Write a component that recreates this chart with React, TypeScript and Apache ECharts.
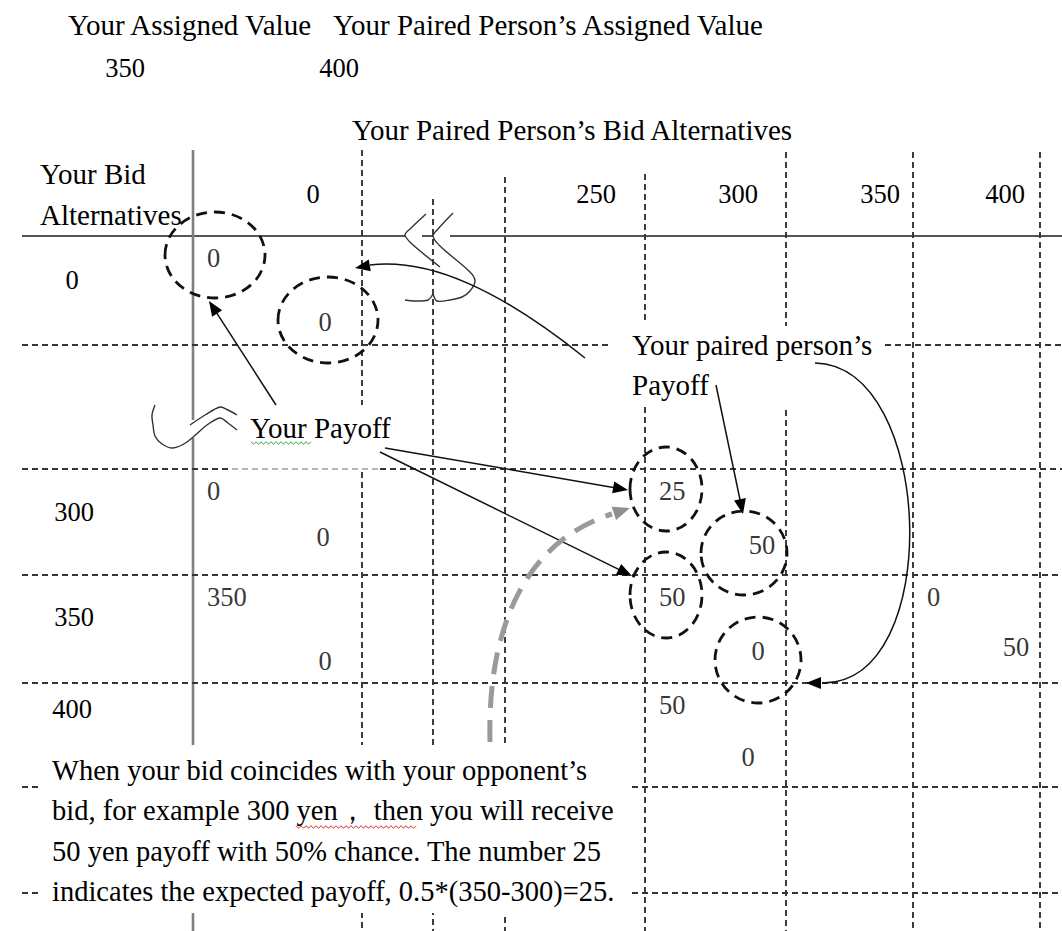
import React, { useEffect, useRef } from "react";
import * as echarts from "echarts";

// ---------- data ----------
const assignedLabels = ["Your Assigned Value", "Your Paired Person’s Assigned Value"];
const assignedValues = ["350", "400"];
const colTitle = "Your Paired Person’s Bid Alternatives";
const rowTitle = ["Your Bid", "Alternatives"];
const colLabels = ["0", "250", "300", "350", "400"];
const rowLabels = ["0", "300", "350", "400"];
const cellRow = ["0", "300", "350", "300", "350", "350", "400"];
const cellCol = ["0", "0", "0", "300", "300", "400", "300"];
const yourPayoff = [0, 0, 350, 25, 50, 0, 50];
const pairedPayoff = [0, 0, 0, 50, 0, 50, 0];
const noteLines = [
  "When your bid coincides with your opponent’s",
  "bid, for example 300 yen， then you will receive",
  "50 yen payoff with 50% chance. The number 25",
  "indicates the expected payoff, 0.5*(350-300)=25.",
];

// ---------- layout ----------
const W = 1062;
const H = 931;
const FONT = '"Liberation Serif", "Times New Roman", serif';
const WORD = 29;
const NUM = 26.5;
const colEdge: Record<string, [number, number]> = {
  "0": [193, 362],
  "250": [505, 645],
  "300": [645, 786],
  "350": [786, 913],
  "400": [913, 1040],
};
const rowEdge: Record<string, [number, number]> = {
  "0": [236, 345],
  "300": [469, 575],
  "350": [575, 683],
  "400": [683, 787],
};
const colHeadX = [313, 596, 738, 880, 1005];
const colHeadY = 194;
const rowLabelX = [72, 74, 74, 72];
const rowLabelY = [280, 512, 617, 709];
const yourOffset = [14, 22];
const pairedOffset = [
  [132, 86],
  [130, 68],
  [132, 86],
  [117, 76],
  [113, 76],
  [103, 72],
  [103, 74],
];

const INK = "#000";
const GRID = "#353535";

function txt(x: number, y: number, s: string, size: number, align = "left", z = 6) {
  return {
    type: "text",
    x,
    y,
    z,
    silent: true,
    style: {
      text: s,
      fontSize: size,
      fontFamily: FONT,
      fill: INK,
      align,
      verticalAlign: "middle",
      textAlign: align,
      textVerticalAlign: "middle",
    },
  };
}
function dashLine(x1: number, y1: number, x2: number, y2: number, color = GRID) {
  return {
    type: "line",
    z: 1,
    silent: true,
    shape: { x1, y1, x2, y2 },
    style: { stroke: color, lineWidth: 1.9, lineDash: [6, 4] },
  };
}
function solidLine(x1: number, y1: number, x2: number, y2: number, color: string, w: number) {
  return {
    type: "line",
    z: 1,
    silent: true,
    shape: { x1, y1, x2, y2 },
    style: { stroke: color, lineWidth: w },
  };
}
function head(tx: number, ty: number, fx: number, fy: number, color = INK, len = 15, w = 6) {
  const dx = tx - fx;
  const dy = ty - fy;
  const d = Math.hypot(dx, dy);
  const ux = dx / d;
  const uy = dy / d;
  const bx = tx - ux * len;
  const by = ty - uy * len;
  const px = -uy;
  const py = ux;
  return {
    type: "polygon",
    z: 4,
    silent: true,
    shape: { points: [[tx, ty], [bx + px * w, by + py * w], [bx - px * w, by - py * w]] },
    style: { fill: color },
  };
}
function arrow(x1: number, y1: number, x2: number, y2: number) {
  const d = Math.hypot(x2 - x1, y2 - y1);
  const bx = x2 - ((x2 - x1) / d) * 12;
  const by = y2 - ((y2 - y1) / d) * 12;
  return [
    { type: "line", z: 4, silent: true, shape: { x1, y1, x2: bx, y2: by }, style: { stroke: "#111", lineWidth: 1.5 } },
    head(x2, y2, x1, y1),
  ];
}
function curve(p: number[], color = "#111", w = 1.5, dash?: number[]) {
  return {
    type: "bezierCurve",
    z: 4,
    silent: true,
    shape: { x1: p[0], y1: p[1], cpx1: p[2], cpy1: p[3], cpx2: p[4], cpy2: p[5], x2: p[6], y2: p[7] },
    style: { stroke: color, lineWidth: w, fill: "none", lineDash: dash },
  };
}
function ring(cx: number, cy: number, rx: number, ry: number) {
  return {
    type: "ellipse",
    z: 3,
    silent: true,
    shape: { cx, cy, rx, ry },
    style: { stroke: "#111", lineWidth: 2.8, fill: "none", lineDash: [11, 7] },
  };
}
function squiggle(pts: number[][]) {
  return {
    type: "polyline",
    z: 3,
    silent: true,
    shape: { points: pts, smooth: 0.3 },
    style: { stroke: "#333", lineWidth: 1.4, fill: "none" },
  };
}
function wavy(x1: number, x2: number, y: number, color: string) {
  const pts: number[][] = [];
  let up = true;
  for (let x = x1; x <= x2; x += 2.5) {
    pts.push([x, y + (up ? -1.3 : 1.3)]);
    up = !up;
  }
  return { type: "polyline", z: 7, silent: true, shape: { points: pts }, style: { stroke: color, lineWidth: 1, fill: "none" } };
}

export default function App() {
  const ref = useRef<HTMLDivElement>(null);
  useEffect(() => {
    if (!ref.current) return;
    const chart = echarts.init(ref.current, undefined, { renderer: "svg" });

    const yourData = yourPayoff.map((v, i) => {
      const c = colEdge[cellCol[i]];
      const r = rowEdge[cellRow[i]];
      return [c[0] + yourOffset[0], r[0] + yourOffset[1], v];
    });
    const pairedData = pairedPayoff.map((v, i) => {
      const c = colEdge[cellCol[i]];
      const r = rowEdge[cellRow[i]];
      return [c[0] + pairedOffset[i][0], r[0] + pairedOffset[i][1], v];
    });

    const g: any[] = [];
    // grid lines
    g.push(solidLine(22, 236, 405, 236, "#555", 2));
    g.push(solidLine(422, 236, 433, 236, "#555", 2));
    g.push(solidLine(450, 236, W, 236, "#555", 2));
    g.push(solidLine(193, 150, 193, 420, "#808080", 2.6));
    g.push(solidLine(193, 438, 193, H, "#808080", 2.6));
    g.push(dashLine(362, 150, 362, 405));
    g.push(dashLine(362, 472, 362, H));
    g.push(dashLine(433, 199, 433, H));
    g.push(dashLine(505, 177, 505, H));
    g.push(dashLine(645, 174, 645, 321));
    g.push(dashLine(645, 407, 645, H));
    g.push(dashLine(786, 152, 786, 326));
    g.push(dashLine(786, 410, 786, H));
    g.push(dashLine(913, 152, 913, H));
    g.push(dashLine(1040, 152, 1040, H));
    g.push(dashLine(22, 345, 612, 345));
    g.push(dashLine(885, 345, W, 345));
    g.push(dashLine(22, 469, 232, 469));
    g.push(dashLine(232, 469, 380, 469, "#b5b5b5"));
    g.push(dashLine(380, 469, W, 469));
    [575, 683, 787, 893].forEach((y) => g.push(dashLine(22, y, W, y)));

    // titles
    g.push(txt(68, 25, assignedLabels[0], WORD));
    g.push(txt(333, 25, assignedLabels[1], WORD));
    g.push(txt(125, 68, assignedValues[0], NUM, "center"));
    g.push(txt(339, 68, assignedValues[1], NUM, "center"));
    g.push(txt(352, 130, colTitle, WORD));
    g.push(txt(40, 174, rowTitle[0], WORD));
    g.push(txt(40, 215, rowTitle[1], WORD));
    colLabels.forEach((s, i) => g.push(txt(colHeadX[i], colHeadY, s, NUM, "center")));
    rowLabels.forEach((s, i) => g.push(txt(rowLabelX[i], rowLabelY[i], s, NUM, "center")));

    // circles
    g.push(ring(215, 255, 50, 43));
    g.push(ring(328, 320, 50, 43));
    g.push(ring(666, 489, 36, 42));
    g.push(ring(744, 553, 43, 42));
    g.push(ring(666, 595, 36, 43));
    g.push(ring(758, 660, 43, 43));

    // break marks
    g.push(squiggle([[426, 214], [410, 229], [405, 235], [412, 244], [440, 267]]));
    g.push(squiggle([[453, 213], [438, 229], [433, 236], [440, 246], [470, 272], [475, 281], [470, 291], [462, 297], [450, 300], [437, 301], [433, 294]]));
    g.push(squiggle([[433, 294], [428, 300], [415, 301], [405, 300]]));
    g.push(squiggle([[155, 405], [152, 415], [153, 425], [155, 436], [162, 444], [173, 448], [187, 442], [207, 425], [220, 418], [228, 423], [237, 430]]));
    g.push(squiggle([[190, 425], [205, 415], [220, 407], [228, 410], [237, 415]]));

    // annotations
    g.push(txt(250, 428, "Your Payoff", WORD, "left", 6));
    g.push(wavy(251, 311, 443, "#3aa63a"));
    g.push(txt(632, 345, "Your paired person’s", WORD));
    g.push(txt(632, 385, "Payoff", WORD));

    g.push(...arrow(276, 405, 209, 301));
    g.push(...arrow(385, 448, 628, 490));
    g.push(...arrow(380, 452, 632, 576));
    g.push(...arrow(716, 385, 743, 514));
    g.push(curve([585, 358, 500, 290, 430, 258, 370, 265]));
    g.push(head(355, 268, 372, 265));
    g.push(curve([815, 363, 935, 365, 945, 685, 822, 683]));
    g.push(head(806, 683, 824, 683));
    g.push(curve([490, 742, 487, 620, 530, 540, 612, 514], "#9a9a9a", 5, [22, 12]));
    g.push(head(630, 508, 612, 514, "#8f8f8f", 17, 7));

    // note box
    g.push({ type: "rect", z: 5, silent: true, shape: { x: 40, y: 745, width: 588, height: 168 }, style: { fill: "#fff" } });
    noteLines.forEach((s, i) => g.push(txt(52, 770 + i * 40.5, s, 28.5, "left", 6)));
    g.push(wavy(296, 418, 827, "#e03030"));

    chart.setOption({
      animation: false,
      grid: { left: 0, right: 0, top: 0, bottom: 0 },
      xAxis: { type: "value", min: 0, max: W, show: false },
      yAxis: { type: "value", min: 0, max: H, inverse: true, show: false },
      graphic: { elements: g },
      series: [
        {
          name: "Your payoff",
          type: "scatter",
          symbolSize: 1,
          itemStyle: { color: "rgba(0,0,0,0)" },
          z: 10,
          data: yourData,
          label: {
            show: true,
            position: "inside",
            align: "left",
            verticalAlign: "middle",
            formatter: (p: any) => String(p.value[2]),
            fontFamily: FONT,
            fontSize: NUM,
            color: INK,
          },
        },
        {
          name: "Paired person's payoff",
          type: "scatter",
          symbolSize: 1,
          itemStyle: { color: "rgba(0,0,0,0)" },
          z: 10,
          data: pairedData,
          label: {
            show: true,
            position: "inside",
            align: "center",
            verticalAlign: "middle",
            formatter: (p: any) => String(p.value[2]),
            fontFamily: FONT,
            fontSize: NUM,
            color: INK,
          },
        },
      ],
    });
    return () => chart.dispose();
  }, []);
  return <div ref={ref} style={{ position: "absolute", left: 0, top: 0, width: W, height: H, background: "#fff" }} />;
}
